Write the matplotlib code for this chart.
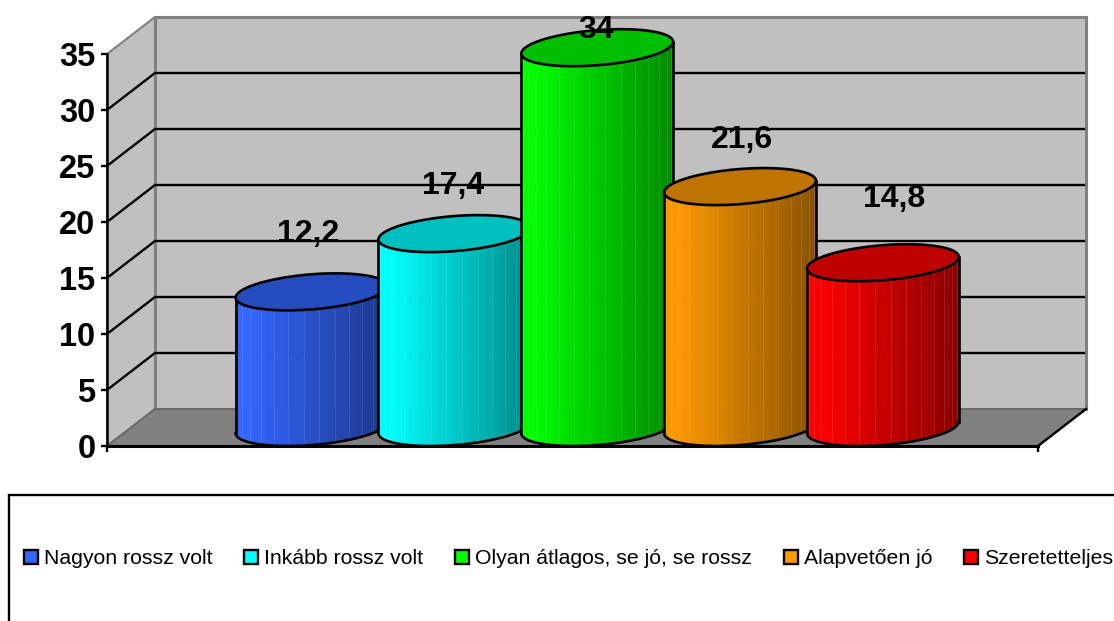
import numpy as np
import matplotlib.pyplot as plt
from matplotlib.colors import to_rgb
from matplotlib.patches import Patch, Polygon, Rectangle

plt.rcParams['font.family'] = ['Liberation Sans', 'DejaVu Sans']

categories = ['Nagyon rossz volt', 'Inkább rossz volt', 'Olyan átlagos, se jó, se rossz',
              'Alapvetően jó', 'Szeretetteljes']
values = [12.2, 17.4, 34, 21.6, 14.8]
colors = ['#3366FF', '#00FFFF', '#00FF00', '#FF9900', '#FF0000']
y_ticks = [0, 5, 10, 15, 20, 25, 30, 35]

# label offsets from the top of each cylinder, in pixels
label_dx = [-3, -1, 0, 3, 12]
label_dy = [49, 39, 9, 38, 55]

W, H = 1114, 621
fig = plt.figure(figsize=(W / 100, H / 100), dpi=100)
ax = fig.add_axes([107 / W, 1 - 446 / H, 931 / W, 392 / H])
x_min, x_max = -1.259, 5.259
ax.set_xlim(x_min, x_max)
ax.set_ylim(0, 35)
ax.patch.set_visible(False)

px_x = (x_max - x_min) / 931   # data units per pixel
px_y = 35 / 392
depth_x = 48 * px_x
depth_y = 37 * px_y
y_top = y_ticks[-1]

wall = '#C0C0C0'
edge = '#808080'

# walls and floor
ax.add_patch(Polygon([(x_min, 0), (x_min + depth_x, depth_y), (x_min + depth_x, y_top + depth_y), (x_min, y_top)],
                     fc=wall, ec=edge, lw=1.5, clip_on=False, zorder=1))
ax.add_patch(Polygon([(x_min + depth_x, depth_y), (x_max + depth_x, depth_y),
                      (x_max + depth_x, y_top + depth_y), (x_min + depth_x, y_top + depth_y)],
                     fc=wall, ec=edge, lw=2.2, clip_on=False, zorder=1))
ax.add_patch(Polygon([(x_min, 0), (x_max, 0), (x_max + depth_x, depth_y), (x_min + depth_x, depth_y)],
                     fc=edge, ec='#666666', lw=1.2, clip_on=False, zorder=1.1))
ax.plot([x_max, x_max + depth_x], [0, depth_y], color='black', lw=1.7, clip_on=False, zorder=1.2)

# gridlines on both walls
for t in y_ticks[1:-1]:
    ax.plot([x_min, x_min + depth_x, x_max + depth_x - 2 * px_x], [t, t + depth_y, t + depth_y],
            color='black', lw=1.7, clip_on=False, zorder=1.5)

# cylinders
half_w = 72 * px_x
half_dx = depth_x / 2
half_dy = depth_y / 2
t0 = np.arctan2(half_dx, half_w)
extent = np.hypot(half_w, half_dx)
outline = 1.9


def ring(cx, cy, t):
    return cx + half_w * np.cos(t) + half_dx * np.sin(t), cy + half_dy * np.sin(t)


for i, (val, col) in enumerate(zip(values, colors)):
    z = 3 + i
    base = to_rgb(col)
    cx = i + half_dx + 0.7 * px_x
    cy = half_dy
    top = cy + val - px_y
    front = np.linspace(t0 + np.pi, t0 + 2 * np.pi, 31)
    xs, ys_low = ring(cx, cy, front)
    _, ys_high = ring(cx, top, front)

    for k in range(len(front) - 1):
        frac = ((xs[k] + xs[k + 1]) / 2 - (cx - extent)) / (2 * extent)
        shade = 1.0 if frac < 0.08 else 1.0 - 0.46 * (frac - 0.08) / 0.92
        face = [c * shade for c in base]
        ax.add_patch(Polygon([(xs[k], ys_low[k]), (xs[k + 1], ys_low[k + 1]),
                              (xs[k + 1], ys_high[k + 1]), (xs[k], ys_high[k])],
                             fc=face, ec=face, lw=0.4, clip_on=False, zorder=z))
        if k > 0 and k % 2 == 0:
            ax.plot([xs[k], xs[k]], [ys_low[k], ys_high[k]], color='white', alpha=0.1, lw=0.7,
                    clip_on=False, zorder=z + 0.1)
    ax.plot(xs, ys_low, color='black', lw=outline, clip_on=False, zorder=z + 0.2)
    ax.plot([xs[0], xs[0]], [ys_low[0], ys_high[0]], color='black', lw=outline, clip_on=False, zorder=z + 0.2)
    ax.plot([xs[-1], xs[-1]], [ys_low[-1], ys_high[-1]], color='black', lw=outline, clip_on=False, zorder=z + 0.2)

    tt = np.linspace(0, 2 * np.pi, 121)
    ex, ey = ring(cx, top, tt)
    ax.add_patch(Polygon(np.column_stack([ex, ey]), fc=[c * 0.75 for c in base], ec='black', lw=outline,
                         clip_on=False, zorder=z + 0.3))

for i, val in enumerate(values):
    ax.annotate(f'{val:g}'.replace('.', ','), (i + half_dx, val + half_dy),
                xytext=(label_dx[i], label_dy[i]), textcoords='offset pixels',
                ha='center', va='baseline', fontsize=23, fontweight='bold',
                annotation_clip=False, zorder=20)

# axes
for s in ['top', 'right']:
    ax.spines[s].set_visible(False)
ax.spines['left'].set_linewidth(1.8)
ax.spines['bottom'].set_linewidth(2.2)
ax.spines['left'].set_zorder(2)
ax.spines['bottom'].set_zorder(2)
ax.set_yticks(y_ticks)
ax.set_xticks([x_min, x_max])
ax.set_xticklabels(['', ''])
ax.tick_params(axis='both', length=4.3, width=1.7, color='black')
ax.tick_params(axis='y', pad=4)
for lab in ax.get_yticklabels():
    lab.set_fontsize(23.5)
    lab.set_fontweight('bold')

# legend box runs past the right and bottom edges
fig.add_artist(Rectangle((9 / W, -10 / H), (W + 20) / W, (H + 10 - 495) / H, transform=fig.transFigure,
                         fc='white', ec='black', lw=1.7))
handles = [Patch(fc=c, ec='black', lw=1.7) for c in colors]
fig.legend(handles, categories, ncol=5, frameon=False, fontsize=15.3,
           loc='center left', bbox_to_anchor=(24 / W, 1 - 559 / H), borderaxespad=0, borderpad=0,
           columnspacing=1.49, handletextpad=0.28, handlelength=0.66, handleheight=0.66)

fig.savefig('out.png', dpi=100)
